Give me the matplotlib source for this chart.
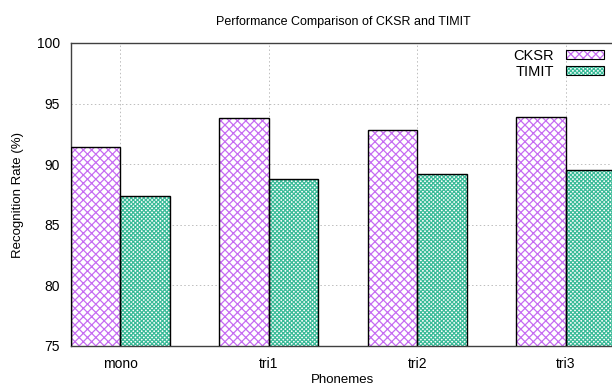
import numpy as np
import matplotlib
matplotlib.use('Agg')
import matplotlib.pyplot as plt
from matplotlib.patches import Patch

# data
phonemes = ['mono', 'tri1', 'tri2', 'tri3']
cksr = [91.4, 93.8, 92.8, 93.9]
timit = [87.4, 88.8, 89.2, 89.5]

plt.rcParams['font.family'] = ['Liberation Sans', 'DejaVu Sans']
plt.rcParams['hatch.linewidth'] = 0.9

PURPLE = '#c66cf2'
TEAL = '#3abb98'

fig = plt.figure(figsize=(6.12, 3.88), dpi=100)
# right edge of the axes runs slightly past the figure, like the original
ax = fig.add_axes([71 / 612, 1 - 346 / 388, 544 / 612, 303 / 388])

x = np.arange(len(phonemes))
w = 1 / 3

ax.bar(x - w / 2, cksr, w, color='white', edgecolor=PURPLE,
       hatch='xxxx', linewidth=0, zorder=2)
ax.bar(x - w / 2, cksr, w, color='none', edgecolor='black', linewidth=1.0, zorder=3)
ax.bar(x + w / 2, timit, w, color='white', edgecolor=TEAL,
       hatch='xxxxxxxx', linewidth=0, zorder=2)
ax.bar(x + w / 2, timit, w, color='none', edgecolor='black', linewidth=1.0, zorder=3)

ax.set_xlim(-w, len(phonemes) - 1 + w)
ax.set_ylim(75, 100)
ax.set_xticks(x)
ax.set_xticklabels(phonemes)
ax.set_yticks(np.arange(75, 101, 5))
ax.tick_params(axis='both', labelsize=10, length=0, pad=8)
ax.tick_params(axis='x', pad=8)

ax.grid(True, color='#bdbdbd', linestyle=(0, (1.5, 2.5)), linewidth=0.7, zorder=0)
ax.set_axisbelow(True)
for s in ax.spines.values():
    s.set_color('#404040')
    s.set_linewidth(1.0)

ax.set_title('Performance Comparison of CKSR and TIMIT', fontsize=9, pad=13)
ax.set_xlabel('Phonemes', fontsize=9.5, labelpad=2)
ax.set_ylabel('Recognition Rate (%)', fontsize=9.5, labelpad=9)

h1 = (Patch(facecolor='white', edgecolor=PURPLE, hatch='xxxx', linewidth=0),
      Patch(facecolor='none', edgecolor='black', linewidth=0.8))
h2 = (Patch(facecolor='white', edgecolor=TEAL, hatch='xxxxxxxx', linewidth=0),
      Patch(facecolor='none', edgecolor='black', linewidth=0.8))
leg = ax.legend([h1, h2], ['CKSR', 'TIMIT'], loc='upper right', frameon=False,
                fontsize=10.5, markerfirst=False, handlelength=2.6, handleheight=0.55,
                labelspacing=0.15, handletextpad=0.8,
                bbox_to_anchor=(0.99, 1.0), borderaxespad=0.0)

fig.savefig('out.png', dpi=100)
